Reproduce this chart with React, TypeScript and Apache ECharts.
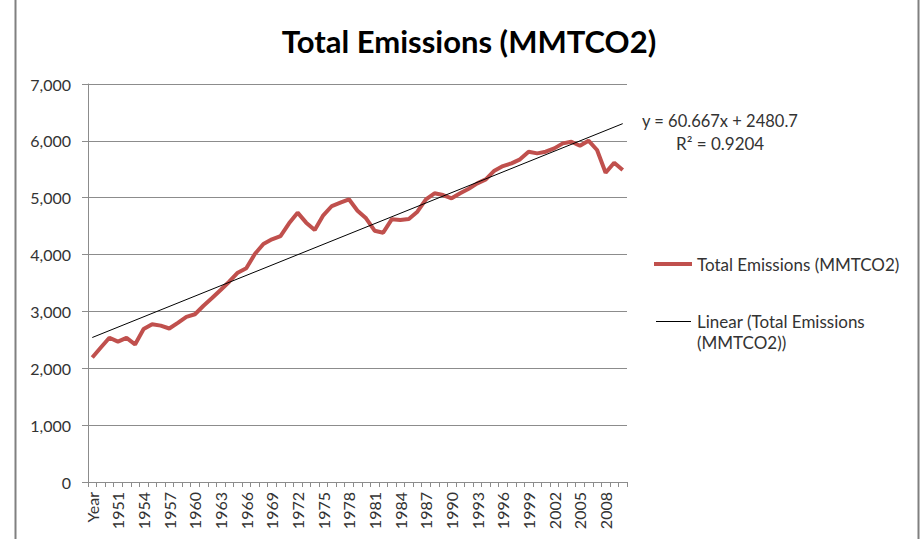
import React, { useEffect, useRef } from "react";
import * as echarts from "echarts";

const categories: string[] = [
  "Year", "1949", "1950", "1951", "1952", "1953", "1954", "1955", "1956", "1957",
  "1958", "1959", "1960", "1961", "1962", "1963", "1964", "1965", "1966", "1967",
  "1968", "1969", "1970", "1971", "1972", "1973", "1974", "1975", "1976", "1977",
  "1978", "1979", "1980", "1981", "1982", "1983", "1984", "1985", "1986", "1987",
  "1988", "1989", "1990", "1991", "1992", "1993", "1994", "1995", "1996", "1997",
  "1998", "1999", "2000", "2001", "2002", "2003", "2004", "2005", "2006", "2007",
  "2008", "2009", "2010",
];

const emissions: number[] = [
  2190, 2365, 2538, 2468, 2535, 2420, 2690, 2775, 2750, 2700,
  2800, 2905, 2950, 3100, 3235, 3377, 3523, 3681, 3758, 4010,
  4186, 4268, 4326, 4550, 4737, 4561, 4432, 4690, 4854, 4913,
  4972, 4772, 4637, 4420, 4385, 4620, 4608, 4625, 4754, 4972,
  5077, 5047, 4989, 5077, 5158, 5253, 5323, 5475, 5557, 5605,
  5675, 5809, 5780, 5809, 5868, 5956, 5985, 5915, 6003, 5839,
  5440, 5616, 5487,
];

// Linear trendline shown on the chart: y = 60.667x + 2480.7 (x = 1..n)
const trendSlope = 60.667;
const trendIntercept = 2480.7;
const trendLabel = "y = 60.667x + 2480.7";
const r2Label = "R² = 0.9204";

const yTicks = { min: 0, max: 7000, interval: 1000 };

const seriesName = "Total Emissions (MMTCO2)";
const trendName = "Linear (Total Emissions\n(MMTCO2))";

const FONT = "Lato, 'Open Sans', sans-serif";
const RED = "#C0504D";
const GRID = "#8c8c8c";
const TEXT = "#333333";

export default function App() {
  const ref = useRef<HTMLDivElement>(null);

  useEffect(() => {
    if (!ref.current) return;
    const chart = echarts.init(ref.current, undefined, { renderer: "svg" });
    const n = categories.length;
    const trendData = categories.map((_, i) =>
      i === 0 || i === n - 1 ? +(trendSlope * (i + 1) + trendIntercept).toFixed(1) : null
    );

    chart.setOption({
      animation: false,
      backgroundColor: "#ffffff",
      textStyle: { fontFamily: FONT },
      title: {
        text: "Total Emissions (MMTCO2)",
        left: 464,
        textAlign: "center",
        top: 20,
        textStyle: { fontFamily: FONT, fontSize: 31, fontWeight: "bold", color: "#000" },
      },
      grid: { left: 88, right: 293, top: 84, bottom: 57, containLabel: false },
      xAxis: {
        type: "category",
        data: categories,
        boundaryGap: true,
        axisLine: { show: true, lineStyle: { color: GRID, width: 1 } },
        axisTick: { show: true, interval: 0, length: 5, lineStyle: { color: GRID } },
        axisLabel: {
          interval: 2,
          rotate: 90,
          margin: 10,
          fontSize: 16,
          color: TEXT,
          fontFamily: FONT,
        },
        splitLine: { show: false },
      },
      yAxis: {
        type: "value",
        min: yTicks.min,
        max: yTicks.max,
        interval: yTicks.interval,
        axisLine: { show: true, lineStyle: { color: GRID, width: 1 } },
        axisTick: { show: true, length: 6, lineStyle: { color: GRID } },
        axisLabel: {
          margin: 17,
          fontSize: 16,
          color: TEXT,
          fontFamily: FONT,
          formatter: (v: number) => v.toLocaleString("en-US"),
        },
        splitLine: { show: true, lineStyle: { color: GRID, width: 1 } },
      },
      series: [
        {
          name: seriesName,
          type: "line",
          data: emissions,
          symbol: "none",
          lineStyle: { color: RED, width: 4 },
          itemStyle: { color: RED },
          z: 2,
        },
        {
          name: trendName,
          type: "line",
          data: trendData,
          connectNulls: true,
          symbol: "none",
          lineStyle: { color: "#000", width: 1 },
          itemStyle: { color: "#000" },
          z: 3,
        },
      ],
      graphic: [
        { type: "line", shape: { x1: 15.5, y1: 0, x2: 15.5, y2: 539 }, style: { stroke: "#808080", lineWidth: 2 } },
        { type: "line", shape: { x1: 918.5, y1: 0, x2: 918.5, y2: 539 }, style: { stroke: "#808080", lineWidth: 2 } },
        {
          type: "text",
          x: 642,
          y: 121,
          style: { text: trendLabel, fontSize: 16.5, fontFamily: FONT, fill: TEXT, verticalAlign: "middle" },
        },
        {
          type: "text",
          x: 676,
          y: 143,
          style: { text: r2Label, fontSize: 17, fontFamily: FONT, fill: TEXT, verticalAlign: "middle" },
        },
        { type: "line", shape: { x1: 654, y1: 264, x2: 692, y2: 264 }, style: { stroke: RED, lineWidth: 4 } },
        {
          type: "text",
          x: 697,
          y: 264,
          style: { text: seriesName, fontSize: 17, fontFamily: FONT, fill: TEXT, verticalAlign: "middle" },
        },
        { type: "line", shape: { x1: 656, y1: 321.5, x2: 691, y2: 321.5 }, style: { stroke: "#000", lineWidth: 1 } },
        {
          type: "text",
          x: 697,
          y: 311,
          style: { text: trendName, fontSize: 17, lineHeight: 21, fontFamily: FONT, fill: TEXT, verticalAlign: "top" },
        },
      ],
    });

    return () => chart.dispose();
  }, []);

  return <div ref={ref} style={{ width: 920, height: 539, position: "absolute", left: 0, top: 0 }} />;
}
